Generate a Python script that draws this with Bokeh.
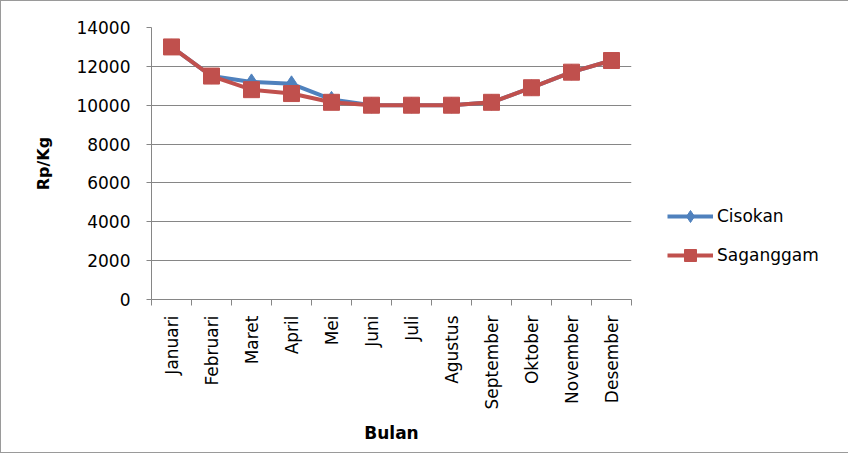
from bokeh.plotting import figure
from bokeh.models import Range1d, FixedTicker, Legend, LegendItem
from bokeh.embed import file_html
from bokeh.resources import INLINE
import math

months = ["Januari", "Februari", "Maret", "April", "Mei", "Juni", "Juli",
          "Agustus", "September", "Oktober", "November", "Desember"]
cisokan = [13000, 11500, 11200, 11100, 10300, 10000, 10000, 10000, 10150, 10900, 11700, 12300]
saganggam = [13000, 11500, 10800, 10600, 10150, 10000, 10000, 10000, 10150, 10900, 11700, 12300]
y_ticks = [0, 2000, 4000, 6000, 8000, 10000, 12000, 14000]

xpos = [i + 0.5 for i in range(len(months))]

FONT = "DejaVu Sans"
GRID = "#868686"

p = figure(frame_width=480, frame_height=272, output_backend="svg", toolbar_location=None,
           x_range=Range1d(0, len(months)), y_range=Range1d(0, 14000),
           min_border_left=150, min_border_right=202, min_border_top=26, min_border_bottom=153)
p.styles = {"border": "1px solid #9a9a9a"}
p.outline_line_color = None
p.background_fill_color = "white"

# x axis
p.xaxis.ticker = FixedTicker(ticks=xpos, minor_ticks=list(range(len(months) + 1)))
p.xaxis.major_label_overrides = {x: m for x, m in zip(xpos, months)}
p.xaxis.major_label_orientation = math.pi / 2
p.xaxis.major_tick_line_color = None
p.xaxis.major_tick_out = 0
p.xaxis.major_tick_in = 0
p.xaxis.minor_tick_line_color = GRID
p.xaxis.minor_tick_out = 6
p.xaxis.minor_tick_in = 0
p.xaxis.axis_line_color = GRID
p.xaxis.major_label_text_font = FONT
p.xaxis.major_label_text_font_size = "17px"
p.xaxis.major_label_text_color = "black"
p.xaxis.major_label_standoff = 10
p.xaxis.axis_label = "Bulan"
p.xaxis.axis_label_text_font = FONT
p.xaxis.axis_label_text_font_style = "bold"
p.xaxis.axis_label_text_font_size = "17px"
p.xaxis.axis_label_text_color = "black"
p.xaxis.axis_label_standoff = 11
p.xgrid.grid_line_color = None

# y axis
p.yaxis.ticker = FixedTicker(ticks=y_ticks)
p.yaxis.minor_tick_line_color = None
p.yaxis.major_tick_line_color = GRID
p.yaxis.major_tick_out = 5
p.yaxis.major_tick_in = 0
p.yaxis.axis_line_color = GRID
p.yaxis.major_label_text_font = FONT
p.yaxis.major_label_text_font_size = "17px"
p.yaxis.major_label_text_color = "black"
p.yaxis.major_label_standoff = 16
p.yaxis.axis_label = "Rp/Kg"
p.yaxis.axis_label_text_font = FONT
p.yaxis.axis_label_text_font_style = "bold"
p.yaxis.axis_label_text_font_size = "16px"
p.yaxis.axis_label_text_color = "black"
p.yaxis.axis_label_standoff = 20
p.ygrid.grid_line_color = GRID
p.ygrid.grid_line_width = 1

BLUE = "#4F81BD"
RED = "#C0504D"

l1 = p.line(xpos, cisokan, line_color=BLUE, line_width=4)
m1 = p.scatter(xpos, cisokan, marker="diamond", size=16, fill_color=BLUE, line_color=BLUE)
l2 = p.line(xpos, saganggam, line_color=RED, line_width=4)
m2 = p.scatter(xpos, saganggam, marker="square", size=16, fill_color=RED, line_color=RED)

legend = Legend(items=[LegendItem(label="Cisokan", renderers=[l1, m1]),
                       LegendItem(label="Saganggam", renderers=[l2, m2])],
                location=(36, 29))
legend.border_line_color = None
legend.background_fill_alpha = 0
legend.padding = 0
legend.margin = 0
legend.glyph_width = 46
legend.glyph_height = 30
legend.label_height = 30
legend.spacing = 9
legend.label_standoff = 4
legend.label_text_font = FONT
legend.label_text_font_size = "17px"
legend.label_text_color = "black"
p.add_layout(legend, "right")

open("out.html", "w").write(file_html(p, INLINE))
